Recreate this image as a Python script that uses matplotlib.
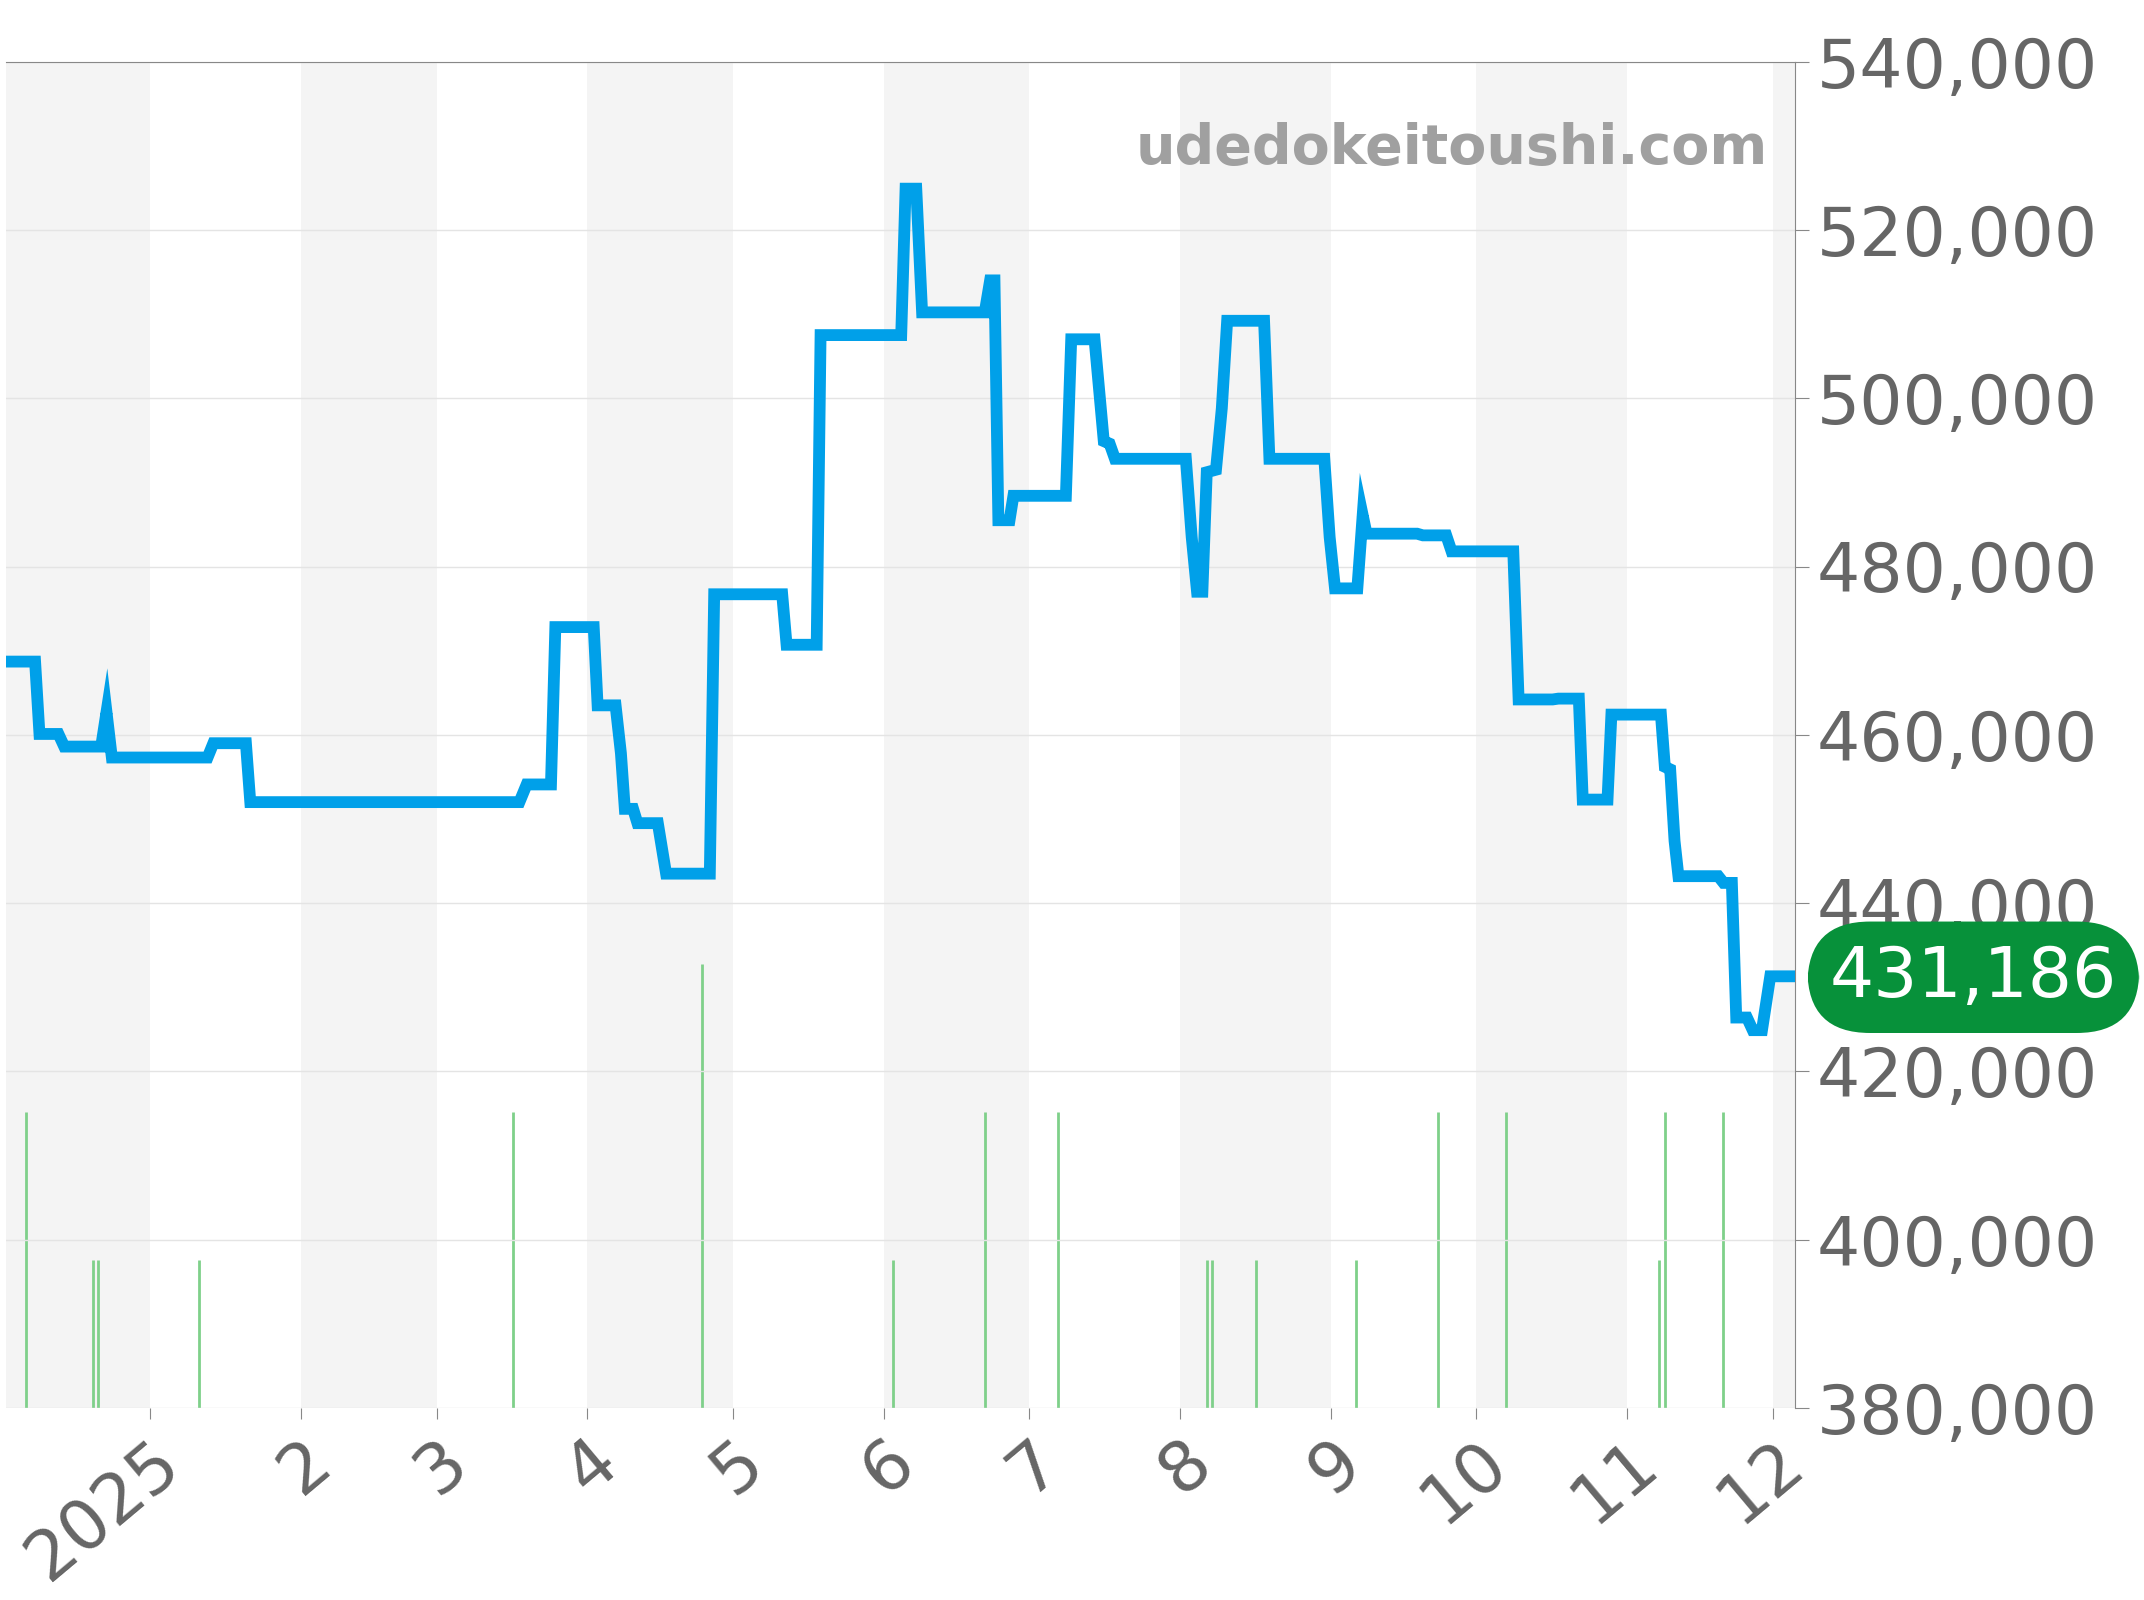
import matplotlib
matplotlib.use("Agg")
import matplotlib.pyplot as plt
import pandas as pd
import numpy as np

base = pd.Timestamp("2025-01-01")
price_days = [-29.6,-23.7,-22.8,-18.9,-17.7,-10.1,-9,-7.9,11.8,13,19.7,20.6,76,77.5,82.5,83.4,91.3,92.1,95.8,96.9,97.7,99.4,100.3,104.5,106.2,115.2,116.1,130.1,131,137.2,138,154.6,155.5,157.7,158.9,171.8,172.9,173.8,174.6,176.9,177.7,188.5,189.6,194.4,196.3,197.5,198.6,213.2,214.4,215.5,216.6,217.5,219.4,220.6,221.7,229.3,230.4,241.7,242.8,243.9,248.5,249.6,250.4,260.8,262,266.8,267.9,280.6,281.7,288.7,289.9,294.1,294.9,300,300.8,311,311.8,312.9,313.8,314.6,322.8,323.9,325.6,326.5,328.7,329.9,331.8,333.5,338]
price_vals = [468700,468700,460100,460100,458600,458600,462700,457300,457300,459000,459000,452000,452000,454100,454100,472800,472800,463500,463500,457800,451200,451200,449500,449500,443500,443500,476700,476700,470700,470700,507500,507500,524900,524900,510200,510200,514000,514000,485500,485500,488400,488400,507000,507000,494900,494600,492800,492800,483500,477000,477000,491200,491500,498800,509200,509200,492800,492800,483500,477400,477400,486100,483900,483900,483700,483700,481800,481800,464200,464200,464300,464300,452300,452300,462400,462400,456200,455900,447400,443200,443200,442400,442400,426400,426400,424900,424900,431300,431300]
vol_days = [-25.6,-11.8,-10.7,10.1,74.6,113.5,153,171.8,186.8,217.5,218.6,227.6,248.2,265.1,279.2,310.7,311.8,323.7]
vol_vals = [2,1,1,1,2,3,1,2,2,1,1,1,1,2,2,1,2,2]
month_labels = ["2025","2","3","4","5","6","7","8","9","10","11","12"]
yticks = [380000,400000,420000,440000,460000,480000,500000,520000,540000]
last_price = "431,186"

px = [base + pd.Timedelta(days=d) for d in price_days]
vx = [base + pd.Timedelta(days=d) for d in vol_days]
xmin = base + pd.Timedelta(days=-29.6)
xmax = base + pd.Timedelta(days=338.5)

fig = plt.figure(figsize=(21.44, 16), dpi=100)
ax = fig.add_axes([0.003, 0.12, 0.834, 0.8415])
ax2 = ax.twinx()
ax.set_xlim(xmin, xmax)
ax.set_ylim(380000, 540000)
ax2.set_ylim(0, 9.1)

months = [pd.Timestamp("2024-12-01")] + [pd.Timestamp(f"2025-{m:02d}-01") for m in range(1, 13)] + [pd.Timestamp("2026-01-01")]
for i in range(len(months) - 1):
    if i % 2 == 0:
        ax2.axvspan(months[i], months[i+1], color="#f4f4f4", zorder=0, lw=0)
ax2.set_xlim(xmin, xmax)
ax2.vlines(vx, 0, vol_vals, color="#7fd08a", lw=2, zorder=2)
ax2.set_yticks([])
for s in ax2.spines.values():
    s.set_visible(False)

ax.set_zorder(ax2.get_zorder() + 1)
ax.patch.set_visible(False)

ax.set_yticks(yticks)
ax.grid(axis="y", color="#e4e4e4", lw=1, zorder=1)
ax.yaxis.tick_right()
ax.set_yticklabels([f"{v:,}" for v in yticks], fontsize=49, color="#666666")
ax.tick_params(axis="y", length=10, color="#888888", pad=6, left=False, labelleft=False, right=True, labelright=True)
ax.set_xticks(months[1:13])
ax.set_xticklabels(month_labels, rotation=40, ha="right", rotation_mode="anchor", fontsize=50, color="#666666")
ax.tick_params(axis="x", length=8, color="#888888", pad=6)
for s in ["left", "bottom"]:
    ax.spines[s].set_visible(False)
ax.spines["top"].set_color("#888888")
ax.spines["right"].set_color("#888888")

ax.plot(px, price_vals, color="#00a0e9", lw=8.5, zorder=5, solid_joinstyle="miter")

ax.text(0.985, 0.935, "udedokeitoushi.com", transform=ax.transAxes, ha="right", va="center",
        fontsize=40, fontweight="bold", color="#a0a0a0")

ax.annotate(last_price, xy=(1.0, 431186), xycoords=("axes fraction", "data"),
            xytext=(1.1, 431186), textcoords=("axes fraction", "data"),
            ha="center", va="center", fontsize=50, color="white", zorder=10,
            bbox=dict(boxstyle="round,pad=0.32,rounding_size=0.9", fc="#07913a", ec="none"),
            annotation_clip=False)

fig.savefig("out.png", dpi=100)
